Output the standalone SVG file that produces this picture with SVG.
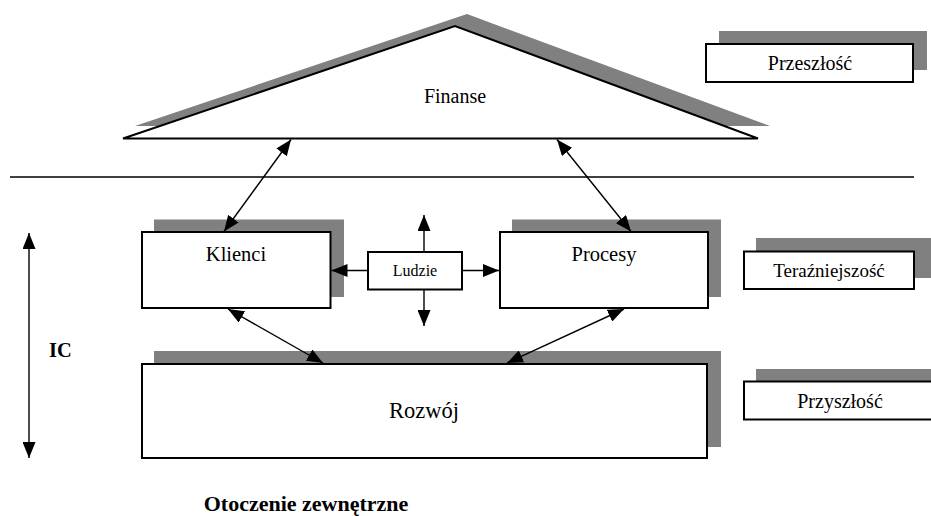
<svg xmlns="http://www.w3.org/2000/svg" width="931" height="516" viewBox="0 0 931 516">
<style>
.sh{fill:#808080;stroke:none}
.bx{fill:#fff;stroke:#000;stroke-width:2}
.t{fill:#000;text-anchor:middle}
.tb{font-weight:bold;fill:#000}
.c{fill:none;stroke:#000;stroke-width:1.4}
</style>
<defs>
<marker id="ah" viewBox="0 0 16 13" refX="16" refY="6.5" markerWidth="16" markerHeight="13" markerUnits="userSpaceOnUse" orient="auto-start-reverse">
<path d="M0,0 L16,6.5 L0,13 z" fill="#000"/>
</marker>
</defs>
<rect width="931" height="516" fill="#fff"/>
<g font-family="'Liberation Serif', 'Times New Roman', Times, 'DejaVu Serif', serif">
<g id="finanse">
<polygon class="sh" points="135,126 467,14 770,126"/>
<polygon class="bx" points="123,138.5 455,26 758,138.5" stroke-width="1.6"/>
<text class="t" x="455" y="103" font-size="20">Finanse</text>
</g>

<g id="przeszlosc">
<rect class="sh" x="719" y="31" width="208" height="39"/>
<rect class="bx" x="706" y="44" width="207" height="38"/>
<text class="t" x="810" y="70" font-size="20">Przeszłość</text>
</g>

<g id="terazniejszosc">
<rect class="sh" x="756" y="238" width="175" height="40"/>
<rect class="bx" x="744" y="251.5" width="170" height="37.5"/>
<text class="t" x="829" y="277" font-size="19">Teraźniejszość</text>
</g>

<g id="przyszlosc">
<rect class="sh" x="756" y="369" width="190" height="40"/>
<rect class="bx" x="744" y="381.5" width="195" height="38"/>
<text class="t" x="840" y="408" font-size="20">Przyszłość</text>
</g>

<line x1="10" y1="177" x2="914" y2="177" stroke="#000" stroke-width="1.4"/>

<g id="klienci">
<rect class="sh" x="154" y="219.5" width="190" height="77.5"/>
<rect class="bx" x="142" y="232" width="188.5" height="76"/>
<text class="t" x="236" y="261" font-size="20.5">Klienci</text>
</g>

<g id="procesy">
<rect class="sh" x="512" y="219.5" width="209" height="77.5"/>
<rect class="bx" x="500" y="232" width="208" height="76"/>
<text class="t" x="604" y="261" font-size="20.5">Procesy</text>
</g>

<g id="ludzie">
<rect class="bx" x="368" y="252" width="94" height="37.5" stroke-width="1.6"/>
<text class="t" x="415" y="276" font-size="16">Ludzie</text>
</g>

<g id="rozwoj">
<rect class="sh" x="154" y="351" width="567" height="96"/>
<rect class="bx" x="142" y="364" width="565" height="94"/>
<text class="t" x="424" y="418" font-size="22.5">Rozwój</text>
</g>

<g id="ic">
<text class="tb" x="49" y="357" font-size="20.5">IC</text>
</g>

<g id="otoczenie">
<text class="tb" x="306" y="511" font-size="22" text-anchor="middle">Otoczenie zewnętrzne</text>
</g>
</g>
<g id="connectors">
<line class="c" x1="291" y1="139.5" x2="224" y2="231.5" marker-start="url(#ah)" marker-end="url(#ah)"/>
<line class="c" x1="557" y1="139.5" x2="631" y2="231.5" marker-start="url(#ah)" marker-end="url(#ah)"/>
<line class="c" x1="228" y1="309" x2="323" y2="363" marker-start="url(#ah)" marker-end="url(#ah)"/>
<line class="c" x1="624" y1="309" x2="507" y2="363" marker-start="url(#ah)" marker-end="url(#ah)"/>
<line class="c" x1="424" y1="252" x2="424" y2="215" marker-end="url(#ah)"/>
<line class="c" x1="424" y1="289.5" x2="424" y2="326" marker-end="url(#ah)"/>
<line class="c" x1="368" y1="270.5" x2="331.5" y2="270.5" marker-end="url(#ah)"/>
<line class="c" x1="462" y1="270.5" x2="499" y2="270.5" marker-end="url(#ah)"/>
<line class="c" x1="29" y1="233" x2="29" y2="458" marker-start="url(#ah)" marker-end="url(#ah)"/>
</g>
</svg>
